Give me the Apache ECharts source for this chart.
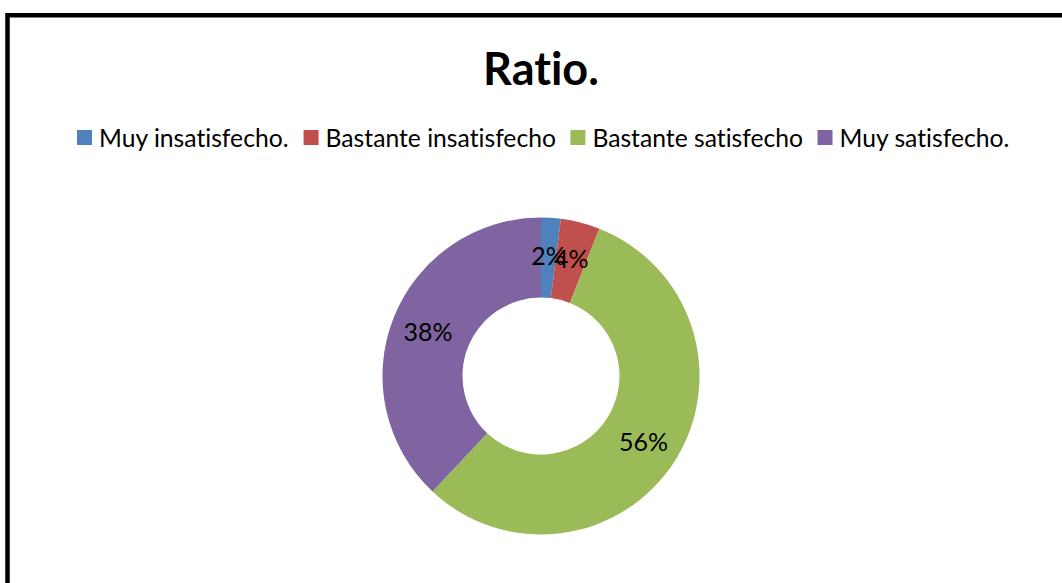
<!DOCTYPE html>
<html>
<head>
<meta charset="utf-8">
<script src="https://cdn.jsdelivr.net/npm/echarts@6/dist/echarts.min.js"></script>
<style>
  html, body { margin: 0; padding: 0; background: #ffffff; }
  #chart { width: 1062px; height: 583px; font-variant-ligatures: none; }
</style>
</head>
<body>
<div id="chart"></div>
<script>
// Satisfaction ratio (percent of responses)
const categories = ['Muy insatisfecho.', 'Bastante insatisfecho', 'Bastante satisfecho', 'Muy satisfecho.'];
const values = [2, 4, 56, 38];
const colors = ['#4F81BD', '#C0504D', '#9BBB59', '#8064A2'];
const titleText = 'Ratio.';

const FONT = 'Lato, "Open Sans", sans-serif';

const chart = echarts.init(document.getElementById('chart'), null, { renderer: 'svg' });

chart.setOption({
  animation: false,
  backgroundColor: '#ffffff',
  color: colors,
  title: {
    text: titleText,
    left: 536,
    textAlign: 'center',
    top: 40,
    textStyle: { fontFamily: FONT, fontSize: 45, fontWeight: 'bold', color: '#000000' }
  },
  legend: {
    data: categories,
    left: 72,
    top: 120,
    icon: 'rect',
    itemWidth: 15,
    itemHeight: 15,
    itemGap: 14,
    selectedMode: false,
    textStyle: { fontFamily: FONT, fontSize: 24.7, color: '#000000', padding: [0, 0, 0, 2] }
  },
  graphic: [{
    type: 'rect',
    silent: true,
    z: 100,
    shape: { x: 7.5, y: 15.3, width: 1100, height: 700 },
    style: { fill: 'none', stroke: '#000000', lineWidth: 4.5 }
  }],
  series: [{
    type: 'pie',
    center: [541, 376],
    radius: [78.5, 158.5],
    startAngle: 90,
    clockwise: true,
    avoidLabelOverlap: false,
    minShowLabelAngle: 0,
    labelLayout: { hideOverlap: false },
    emphasis: { disabled: true },
    itemStyle: { borderWidth: 0 },
    label: {
      show: true,
      position: 'inside',
      formatter: '{c}%',
      fontFamily: FONT,
      fontSize: 25,
      color: '#000000'
    },
    labelLine: { show: false },
    data: categories.map((name, i) => ({ name, value: values[i] }))
  }]
});
</script>
</body>
</html>
